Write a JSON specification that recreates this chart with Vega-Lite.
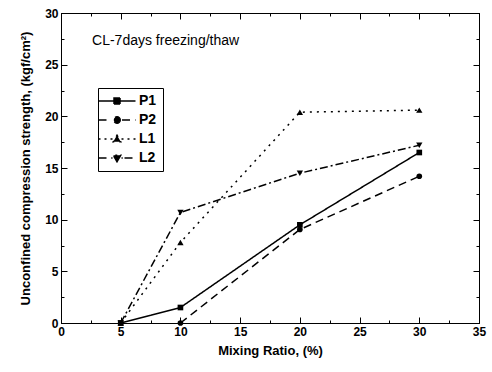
{
  "$schema": "https://vega.github.io/schema/vega-lite/v6.json",
  "width": 418,
  "height": 310,
  "autosize": {"type": "none"},
  "padding": {"left": 61, "top": 13, "right": 13, "bottom": 49},
  "background": "white",
  "config": {
    "font": "Liberation Sans",
    "view": {"stroke": "black", "strokeWidth": 1},
    "axis": {"grid": false, "domainColor": "black", "tickColor": "black", "labelColor": "black", "titleColor": "black", "labelFontSize": 12, "labelFontWeight": "bold", "titleFontSize": 13, "titleFontWeight": "bold"}
  },
  "datasets": {
    "series": [
      {"ratio": 5, "strength": 0, "series": "P1"},
      {"ratio": 10, "strength": 1.5, "series": "P1"},
      {"ratio": 20, "strength": 9.5, "series": "P1"},
      {"ratio": 30, "strength": 16.5, "series": "P1"},
      {"ratio": 10, "strength": 0, "series": "P2"},
      {"ratio": 20, "strength": 9.05, "series": "P2"},
      {"ratio": 30, "strength": 14.2, "series": "P2"},
      {"ratio": 5, "strength": 0, "series": "L1"},
      {"ratio": 10, "strength": 7.8, "series": "L1"},
      {"ratio": 20, "strength": 20.4, "series": "L1"},
      {"ratio": 30, "strength": 20.6, "series": "L1"},
      {"ratio": 5, "strength": 0, "series": "L2"},
      {"ratio": 10, "strength": 10.7, "series": "L2"},
      {"ratio": 20, "strength": 14.5, "series": "L2"},
      {"ratio": 30, "strength": 17.2, "series": "L2"}
    ]
  },
  "layer": [
    {
      "data": {"name": "series"},
      "mark": {"type": "line", "color": "black", "strokeWidth": 1.5},
      "encoding": {
        "x": {"field": "ratio", "type": "quantitative", "scale": {"domain": [0, 35], "nice": false},
          "axis": {"orient": "bottom", "title": "Mixing Ratio, (%)", "values": [0, 2.5, 5, 7.5, 10, 12.5, 15, 17.5, 20, 22.5, 25, 27.5, 30, 32.5, 35],
            "labelExpr": "datum.value % 5 === 0 ? datum.label : ''",
            "tickSize": {"condition": {"test": "datum.value % 5 === 0", "value": -6}, "value": -3},
            "labelPadding": 9, "titlePadding": 7, "labelFlush": false}},
        "y": {"field": "strength", "type": "quantitative", "scale": {"domain": [0, 30], "nice": false},
          "axis": {"orient": "left", "title": "Unconfined compression strength, (kgf/cm²)", "values": [0, 2.5, 5, 7.5, 10, 12.5, 15, 17.5, 20, 22.5, 25, 27.5, 30],
            "labelExpr": "datum.value % 5 === 0 ? datum.label : ''",
            "tickSize": {"condition": {"test": "datum.value % 5 === 0", "value": -6}, "value": -3},
            "labelPadding": 9, "titlePadding": 12, "labelFlush": false}},
        "strokeDash": {"field": "series", "type": "nominal", "sort": null,
          "scale": {"domain": ["P1", "P2", "L1", "L2"], "range": [[1, 0], [8, 5], [2, 5], [8, 3, 2, 3]]},
          "legend": {"orient": "none", "legendX": 37, "legendY": 75, "title": null, "strokeColor": "black", "padding": 6,
            "labelFontSize": 14, "labelFontWeight": "bold", "labelColor": "black", "symbolSize": 100, "rowPadding": 5, "labelOffset": 21,
            "symbolStrokeColor": "black", "symbolStrokeWidth": 1.5,
            "encode": {"symbols": {"update": {
              "shape": {"signal": "datum.value === 'P1' ? 'M-3.7,0H3.7M-0.6,-0.6H0.6V0.6H-0.6Z' : datum.value === 'P2' ? 'M-3.7,0H-1.5M1.0,0H3.7M0.65,0A0.65,0.65 0 1,1 -0.65,0A0.65,0.65 0 1,1 0.65,0Z' : datum.value === 'L1' ? 'M-3.7,0H-3.3M-2.5,0H-2.1M-1.3,0H-0.9M0.9,0H1.3M2.1,0H2.5M3.3,0H3.7M0,-0.75L0.75,0.55L-0.75,0.55Z' : 'M-3.7,0H-1.5M-1.15,0H-0.9M0.9,0H1.15M1.5,0H3.7M0,0.75L0.75,-0.55L-0.75,-0.55Z'"},
              "x": {"value": 13},
              "fill": {"value": "black"},
              "fillOpacity": {"value": 1},
              "stroke": {"value": "black"},
              "strokeDash": {"value": []},
              "strokeWidth": {"value": 1.5},
              "size": {"value": 100}
            }}}}}
      }
    },
    {
      "data": {"name": "series"},
      "transform": [{"filter": "datum.series === 'P1'"}],
      "mark": {"type": "point", "shape": "square", "filled": true, "color": "black", "size": 32, "opacity": 1},
      "encoding": {
        "x": {"field": "ratio", "type": "quantitative", "axis": null},
        "y": {"field": "strength", "type": "quantitative", "axis": null}
      }
    },
    {
      "data": {"name": "series"},
      "transform": [{"filter": "datum.series === 'P2'"}],
      "mark": {"type": "point", "shape": "circle", "filled": true, "color": "black", "size": 32, "opacity": 1},
      "encoding": {
        "x": {"field": "ratio", "type": "quantitative", "axis": null},
        "y": {"field": "strength", "type": "quantitative", "axis": null}
      }
    },
    {
      "data": {"name": "series"},
      "transform": [{"filter": "datum.series === 'L1'"}],
      "mark": {"type": "point", "shape": "triangle-up", "filled": true, "color": "black", "size": 40, "opacity": 1},
      "encoding": {
        "x": {"field": "ratio", "type": "quantitative", "axis": null},
        "y": {"field": "strength", "type": "quantitative", "axis": null}
      }
    },
    {
      "data": {"name": "series"},
      "transform": [{"filter": "datum.series === 'L2'"}],
      "mark": {"type": "point", "shape": "triangle-down", "filled": true, "color": "black", "size": 40, "opacity": 1},
      "encoding": {
        "x": {"field": "ratio", "type": "quantitative", "axis": null},
        "y": {"field": "strength", "type": "quantitative", "axis": null}
      }
    },
    {
      "data": {"values": [{"ratio": 2.6, "strength": 27.3, "label": "CL-7days freezing/thaw"}]},
      "mark": {"type": "text", "align": "left", "baseline": "middle", "fontSize": 14, "color": "black"},
      "encoding": {
        "x": {"field": "ratio", "type": "quantitative",
          "axis": {"orient": "top", "title": null, "values": [0, 2.5, 5, 7.5, 10, 12.5, 15, 17.5, 20, 22.5, 25, 27.5, 30, 32.5, 35], "labels": true, "labelExpr": "''", "labelPadding": 0,
            "tickSize": {"condition": {"test": "datum.value % 5 === 0", "value": -6}, "value": -3}}},
        "y": {"field": "strength", "type": "quantitative",
          "axis": {"orient": "right", "title": null, "values": [0, 2.5, 5, 7.5, 10, 12.5, 15, 17.5, 20, 22.5, 25, 27.5, 30], "labels": true, "labelExpr": "''", "labelPadding": 0,
            "tickSize": {"condition": {"test": "datum.value % 5 === 0", "value": -6}, "value": -3}}},
        "text": {"field": "label"}
      }
    }
  ],
  "resolve": {"axis": {"x": "independent", "y": "independent"}}
}
